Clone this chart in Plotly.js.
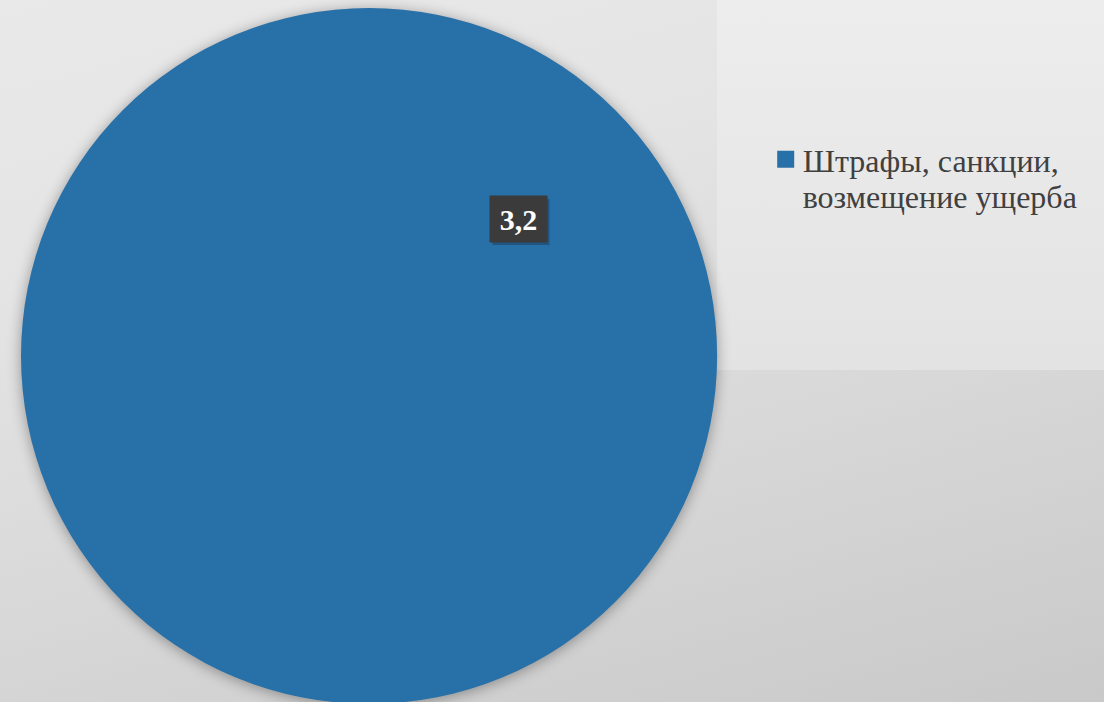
<!DOCTYPE html>
<html>
<head>
<meta charset="utf-8">
<script src="https://cdn.plot.ly/plotly-3.0.1.min.js"></script>
<style>
  html, body { margin: 0; padding: 0; width: 1104px; height: 702px; overflow: hidden; }
  #bg { position: absolute; left: 0; top: 0; width: 1104px; height: 702px;
        background: linear-gradient(165deg, #e9e9e9 0%, #e4e4e4 30%, #d9d9d9 60%, #cfcfcf 85%, #c9c9c9 100%); }
  #bg2 { position: absolute; left: 717px; top: 0; width: 387px; height: 370px;
         background: linear-gradient(180deg, #ededed 0%, #e8e8e8 50%, #e3e3e3 100%); }
  #chart { position: absolute; left: 0; top: 0; width: 1104px; height: 712px; }
  .pielayer { filter: drop-shadow(0px 2px 7px rgba(0,0,0,0.35)); }
</style>
</head>
<body>
<div id="bg"></div>
<div id="bg2"></div>
<div id="chart"></div>
<script>
// Data
const categories = ['Штрафы, санкции,<br>возмещение ущерба'];
const values = [3.2];
const colors = ['#2870a8'];

const valueLabel = values[0].toString().replace('.', ',');
const serif = '"Liberation Serif", "Times New Roman", serif';

const trace = {
  type: 'pie',
  labels: categories,
  values: values,
  marker: { colors: colors, line: { width: 0 } },
  textinfo: 'none',
  hoverinfo: 'label+value',
  sort: false,
  direction: 'clockwise',
  domain: { x: [0.01902, 0.64946], y: [0.01124, 0.98876] },
  showlegend: true
};

const W = 1104, H = 712;
const bx = 518, by = 219, bw = 57, bh = 46;

const layout = {
  width: W,
  height: H,
  margin: { l: 0, r: 0, t: 0, b: 0 },
  paper_bgcolor: 'rgba(0,0,0,0)',
  plot_bgcolor: 'rgba(0,0,0,0)',
  showlegend: true,
  legend: {
    x: 762.7 / W, y: 1 - 132 / H, xanchor: 'left', yanchor: 'top',
    font: { family: serif, size: 32, color: '#404040' },
    bgcolor: 'rgba(0,0,0,0)',
    valign: 'top'
  },
  shapes: [{
    type: 'rect', xref: 'paper', yref: 'paper', layer: 'above',
    x0: (bx - bw / 2 + 3) / W, x1: (bx + bw / 2 + 3) / W,
    y0: 1 - (by + bh / 2 + 3) / H, y1: 1 - (by - bh / 2 + 3) / H,
    fillcolor: 'rgba(15,35,55,0.35)', line: { width: 0 }
  }],
  annotations: [{
    xref: 'paper', yref: 'paper',
    x: bx / W, y: 1 - by / H,
    xanchor: 'center', yanchor: 'middle',
    text: '<b>' + valueLabel + '</b>',
    showarrow: false,
    font: { family: serif, size: 30, color: '#ffffff' },
    bgcolor: '#3b3b3b',
    width: bw - 6, height: bh - 6, borderpad: 3
  }]
};

Plotly.newPlot('chart', [trace], layout, { displayModeBar: false, staticPlot: true }).then(function (gd) {
  document.querySelectorAll('#chart path.legendpie').forEach(function (p) {
    p.setAttribute('d', 'M11.5,8.5H-5.5V-8.5H11.5Z');
  });
  document.querySelectorAll('#chart .legendtext tspan.line').forEach(function (t, i) {
    if (i > 0) t.setAttribute('dy', '1.14em');
  });
});
</script>
</body>
</html>
